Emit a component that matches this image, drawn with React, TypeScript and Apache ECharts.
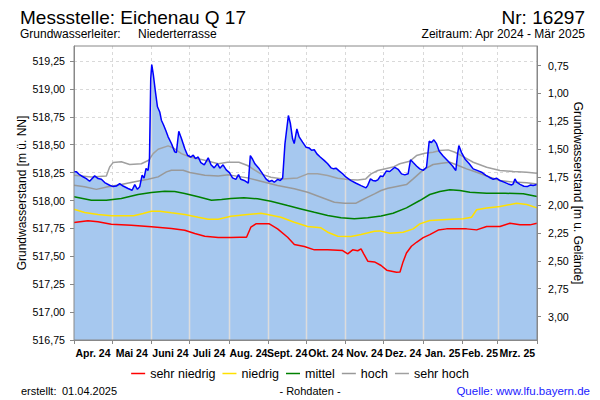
import React, { useEffect, useRef } from 'react';
import * as echarts from 'echarts';

// ---- data (day index since 01.04.2024, level in m ü. NN) ----
const monthLabels = ['Apr. 24', 'Mai 24', 'Juni 24', 'Juli 24', 'Aug. 24', 'Sept. 24', 'Okt. 24', 'Nov. 24', 'Dez. 24', 'Jan. 25', 'Feb. 25', 'Mrz. 25'];
const monthLengths = [30, 31, 30, 31, 31, 30, 31, 30, 31, 31, 28, 31];
const levelTicks = [516.75, 517.0, 517.25, 517.5, 517.75, 518.0, 518.25, 518.5, 518.75, 519.0, 519.25];
const depthTicks = [0.75, 1.0, 1.25, 1.5, 1.75, 2.0, 2.25, 2.5, 2.75, 3.0];
const groundLevel = 519.96;
const levelMin = 516.75;
const levelMax = 519.385;

const rohdaten: [number, number][] = [
  [0, 518.257], [2, 518.257], [4, 518.235], [6, 518.22], [9.7, 518.197], [12.3, 518.173], [16.3, 518.221],
  [19, 518.197], [21.6, 518.19], [24.2, 518.161], [28.1, 518.137], [30.8, 518.125], [33.4, 518.13], [36, 518.152],
  [38.7, 518.13], [42.6, 518.108], [45.8, 518.092], [47.9, 518.143], [50, 518.1], [51.8, 518.123], [53.7, 518.227],
  [55.2, 518.2], [56.8, 518.287], [58.4, 518.27], [59.5, 518.376], [60.5, 519.093], [61.3, 519.219], [62.6, 519.123],
  [64.2, 518.974], [65.8, 518.84], [67.6, 518.794], [68.9, 518.72], [70.7, 518.675], [72.3, 518.63], [74.2, 518.571],
  [76.8, 518.511], [79.4, 518.436], [80.7, 518.43], [82.6, 518.621], [84.7, 518.556], [87.3, 518.466], [89.5, 518.406],
  [92, 518.39], [94, 518.406], [95.8, 518.376], [97.9, 518.39], [100, 518.34], [102.7, 518.32], [105.8, 518.383],
  [108, 518.32], [110.5, 518.293], [113, 518.33], [115, 518.29], [117.5, 518.32], [120, 518.275], [122.5, 518.25],
  [125, 518.203], [127.6, 518.19], [129.7, 518.233], [131.5, 518.19], [134.2, 518.18], [137.4, 518.155], [139, 518.403],
  [140.8, 518.37], [142.6, 518.329], [146, 518.284], [148.7, 518.239], [151.3, 518.194], [153.9, 518.17], [156, 518.18],
  [157.9, 518.164], [160.6, 518.19], [162.6, 518.18], [164.5, 518.203], [166.3, 518.508], [169, 518.762], [170.6, 518.69],
  [172.3, 518.553], [173.6, 518.51], [175.7, 518.642], [177.5, 518.57], [180.2, 518.523], [182.9, 518.478], [185.5, 518.47],
  [187.3, 518.45], [189.4, 518.455], [191.5, 518.418], [194.1, 518.39], [197.4, 518.358], [200, 518.33], [202.6, 518.293],
  [204.7, 518.284], [206.5, 518.29], [209.2, 518.263], [211.8, 518.24], [214.5, 518.209], [218.4, 518.179], [222.4, 518.155],
  [226.3, 518.134], [230.2, 518.114], [231.5, 518.134], [233.7, 518.194], [235.5, 518.18], [237.6, 518.175], [239.5, 518.185],
  [241.6, 518.22], [243.5, 518.215], [246.3, 518.265], [248.9, 518.26], [252.9, 518.298], [255.5, 518.28], [258.2, 518.239],
  [260.8, 518.23], [263.4, 518.24], [265.3, 518.365], [267.4, 518.34], [270, 518.31], [272.6, 518.284], [275.3, 518.27],
  [277.9, 518.298], [280, 518.531], [281.8, 518.52], [283.7, 518.544], [285.8, 518.51], [287.9, 518.442], [291, 518.4],
  [295, 518.352], [298.4, 518.31], [301, 518.269], [302.4, 518.418], [303.4, 518.493], [305.5, 518.43], [308.2, 518.373],
  [311.6, 518.33], [314.7, 518.284], [317.8, 518.27], [321.3, 518.254], [324.7, 518.225], [327.3, 518.209], [330.5, 518.19],
  [333.1, 518.2], [335.8, 518.179], [339, 518.165], [342.3, 518.149], [345, 518.14], [346.3, 518.15], [347.6, 518.194],
  [349, 518.165], [351.6, 518.145], [354.7, 518.128], [357.3, 518.125], [360, 518.14], [362, 518.134], [365, 518.143],
];

const sehrHoch: [number, number][] = [
  [0, 518.227], [13.7, 518.21], [25.5, 518.22], [28.1, 518.3], [30.8, 518.34], [37.3, 518.347], [43.9, 518.323],
  [53.1, 518.33], [58.9, 518.361], [62.4, 518.42], [66.3, 518.46], [74.2, 518.49], [78.2, 518.472], [84.7, 518.42],
  [91.3, 518.39], [103.1, 518.361], [113.7, 518.33], [121, 518.343], [130, 518.343], [136.8, 518.314], [147.3, 518.239],
  [155.2, 518.209], [164.5, 518.194], [176.3, 518.203], [184.2, 518.239], [192, 518.239], [200, 518.224], [207.8, 518.2],
  [215.8, 518.188], [223.7, 518.185], [230, 518.194], [234.2, 518.239], [239.5, 518.269], [244.7, 518.283], [251.5, 518.3],
  [256.8, 518.33], [264.7, 518.352], [270, 518.403], [276.6, 518.424], [283.1, 518.433], [288.4, 518.448], [295, 518.454],
  [300.3, 518.433], [306.8, 518.394], [314.7, 518.343], [325.3, 518.298], [335.8, 518.269], [346.3, 518.26], [356.9, 518.254],
  [365, 518.245],
];

const hoch: [number, number][] = [
  [0, 518.137], [8.4, 518.123], [17.6, 518.1], [26.8, 518.123], [37.3, 518.143], [47.9, 518.168], [58.4, 518.19],
  [66.3, 518.212], [72.9, 518.257], [76.8, 518.272], [86, 518.272], [91.3, 518.251], [103.1, 518.227], [113.7, 518.22],
  [122, 518.23], [136.8, 518.203], [147.3, 518.173], [160.5, 518.134], [173.7, 518.105], [184.2, 518.074], [194.7, 518.03],
  [205.3, 517.985], [213.2, 517.976], [222.4, 517.976], [226.3, 518.0], [231.6, 518.03], [236.9, 518.06], [242.1, 518.09],
  [247.4, 518.11], [251.5, 518.12], [262.1, 518.143], [267.4, 518.194], [275.3, 518.275], [283.1, 518.323], [289.8, 518.334],
  [296.3, 518.343], [302.9, 518.314], [309.5, 518.284], [317.4, 518.254], [327.9, 518.209], [335.8, 518.179], [346.3, 518.165],
  [356.9, 518.16], [365, 518.149],
];

const mittel: [number, number][] = [
  [0, 518.033], [13.7, 518.003], [25.5, 518.003], [37.3, 518.018], [50.5, 518.054], [61, 518.072], [71.5, 518.083],
  [79.4, 518.08], [87.3, 518.063], [97.9, 518.033], [108.4, 518.003], [116.3, 518.01], [123.7, 518.018], [134, 518.025],
  [144.7, 518.015], [155.2, 517.994], [168.4, 517.955], [178.9, 517.925], [189.5, 517.895], [200, 517.866], [210.5, 517.845],
  [221, 517.836], [231.6, 517.845], [242.1, 517.862], [251.5, 517.886], [262.1, 517.934], [272.6, 518.0], [280.5, 518.054],
  [288.4, 518.081], [296.3, 518.096], [304.2, 518.09], [312.1, 518.075], [325.3, 518.065], [340, 518.065], [354.2, 518.06],
  [365, 518.036],
];

const niedrig: [number, number][] = [
  [0, 517.922], [8.4, 517.892], [18.9, 517.875], [29.4, 517.863], [47, 517.863], [54.5, 517.883], [61, 517.904],
  [67.6, 517.904], [76.8, 517.89], [87.3, 517.875], [97.9, 517.85], [105.8, 517.832], [113.7, 517.832], [123.7, 517.86],
  [136.8, 517.875], [147.3, 517.886], [152.6, 517.875], [163.1, 517.85], [173.7, 517.806], [184.2, 517.767], [194.7, 517.756],
  [200, 517.716], [207.9, 517.68], [218.4, 517.677], [226.3, 517.695], [236.9, 517.725], [241, 517.728], [249, 517.707],
  [259.5, 517.716], [267.4, 517.746], [272.6, 517.791], [280.5, 517.821], [293.7, 517.83], [306.8, 517.836], [313.4, 517.85],
  [317.4, 517.917], [325.3, 517.934], [335.8, 517.946], [349, 517.976], [356.9, 517.965], [365, 517.934],
];

const sehrNiedrig: [number, number][] = [
  [0, 517.803], [11, 517.818], [18.9, 517.81], [29.4, 517.788], [45.2, 517.779], [61, 517.764], [76.8, 517.749],
  [87.3, 517.734], [95.2, 517.704], [103.1, 517.68], [113.7, 517.668], [123.7, 517.668], [130.7, 517.671], [136, 517.671],
  [139.4, 517.761], [143.4, 517.791], [154, 517.791], [160.5, 517.746], [168.4, 517.671], [173.7, 517.606], [181.6, 517.588],
  [189.5, 517.558], [200, 517.558], [211.8, 517.552], [215.8, 517.522], [219.7, 517.558], [223.7, 517.55], [226.3, 517.567],
  [228.4, 517.522], [231.6, 517.456], [236.9, 517.45], [242.1, 517.418], [246.5, 517.376], [254.2, 517.357], [257, 517.36],
  [259.4, 517.45], [262.1, 517.53], [266, 517.59], [270, 517.626], [275.3, 517.668], [280.5, 517.695], [287.1, 517.735],
  [293.7, 517.746], [309.5, 517.746], [317.4, 517.737], [325.3, 517.767], [335.8, 517.767], [343.7, 517.797], [351.6, 517.782],
  [359.5, 517.782], [365, 517.797],
];

const FONT = '"Liberation Sans", Arial, Helvetica, sans-serif';

const monthStarts: number[] = monthLengths.reduce<number[]>((acc, len) => {
  acc.push(acc[acc.length - 1] + len);
  return acc;
}, [0]);
const monthMids: number[] = monthLengths.map((len, i) => monthStarts[i] + len / 2);

function levelAt(day: number): number {
  for (let i = 1; i < rohdaten.length; i++) {
    const [d0, v0] = rohdaten[i - 1];
    const [d1, v1] = rohdaten[i];
    if (day <= d1) return v0 + ((v1 - v0) * (day - d0)) / (d1 - d0);
  }
  return rohdaten[rohdaten.length - 1][1];
}

const fmt = (v: number) => v.toFixed(2).replace('.', ',');

export default function App() {
  const ref = useRef<HTMLDivElement>(null);

  useEffect(() => {
    if (!ref.current) return;
    const chart = echarts.init(ref.current, undefined, { renderer: 'svg' });

    const innerStarts = monthStarts.slice(1, -1).map((d) => [d, levelAt(d)]);

    const statLine = (name: string, data: [number, number][], color: string) => ({
      name,
      type: 'line',
      data,
      symbol: 'none',
      z: 3,
      lineStyle: { color, width: 1.5 },
      itemStyle: { color },
    });

    chart.setOption({
      animation: false,
      backgroundColor: '#ffffff',
      textStyle: { fontFamily: FONT },
      grid: { left: 74, right: 63, top: 46, bottom: 60, show: true, borderColor: '#888888', borderWidth: 1, z: 10, backgroundColor: 'transparent' },
      legend: {
        data: ['sehr niedrig', 'niedrig', 'mittel', 'hoch', 'sehr hoch'],
        left: 'center',
        top: 362,
        icon: 'rect',
        itemWidth: 14,
        itemHeight: 1.5,
        itemGap: 7,
        selectedMode: false,
        textStyle: { fontSize: 12.5, color: '#000', fontFamily: FONT },
      },
      xAxis: {
        type: 'value',
        min: 0,
        max: 365,
        axisLine: { show: true, lineStyle: { color: '#888888' } },
        axisTick: { show: true, length: 4, customValues: monthStarts, lineStyle: { color: '#888888' } },
        axisLabel: {
          customValues: monthMids,
          margin: 7,
          fontSize: 10.5,
          fontWeight: 'bold',
          color: '#000',
          fontFamily: FONT,
          formatter: (v: number) => {
            const i = monthMids.findIndex((m) => Math.abs(m - v) < 0.01);
            return i >= 0 ? monthLabels[i] : '';
          },
        },
        splitLine: { show: true, lineStyle: { color: '#d9d9d9', type: [3, 3], width: 1 } },
      },
      yAxis: [
        {
          type: 'value',
          min: levelMin,
          max: levelMax,
          name: 'Grundwasserstand [m ü. NN]',
          nameLocation: 'middle',
          nameRotate: 90,
          nameGap: 46,
          nameMoveOverlap: false,
          nameTextStyle: { fontSize: 12, color: '#000', fontFamily: FONT },
          axisLine: { show: true, lineStyle: { color: '#888888' } },
          axisTick: { show: true, length: 4, customValues: levelTicks, lineStyle: { color: '#888888' } },
          axisLabel: { customValues: levelTicks, margin: 9, fontSize: 10.67, color: '#000', fontFamily: FONT, formatter: (v: number) => fmt(v) },
          splitLine: { show: true, lineStyle: { color: '#d9d9d9', type: [3, 3], width: 1 } },
        },
        {
          type: 'value',
          inverse: true,
          position: 'right',
          min: +(groundLevel - levelMax).toFixed(3),
          max: +(groundLevel - levelMin).toFixed(3),
          name: 'Grundwasserstand [m u. Gelände]',
          nameLocation: 'middle',
          nameRotate: -90,
          nameGap: 35,
          nameMoveOverlap: false,
          nameTextStyle: { fontSize: 12, color: '#000', fontFamily: FONT },
          axisLine: { show: true, lineStyle: { color: '#888888' } },
          axisTick: { show: true, length: 4, customValues: depthTicks, lineStyle: { color: '#888888' } },
          axisLabel: { customValues: depthTicks, margin: 11, fontSize: 10.67, color: '#000', fontFamily: FONT, formatter: (v: number) => fmt(v) },
          splitLine: { show: false },
        },
      ],
      series: [
        {
          name: 'Rohdaten-Fläche',
          type: 'line',
          data: rohdaten,
          symbol: 'none',
          z: 1,
          lineStyle: { width: 0, opacity: 0 },
          areaStyle: { color: '#a6c8ef', opacity: 1, origin: 'start' },
          silent: true,
        },
        {
          name: 'Monatslinien',
          type: 'custom',
          data: innerStarts,
          z: 2,
          silent: true,
          renderItem: (_p: any, api: any) => {
            const top = api.coord([api.value(0), api.value(1)]);
            const bottom = api.coord([api.value(0), levelMin]);
            const x = Math.round(top[0]) + 0.5;
            return {
              type: 'line',
              shape: { x1: x, y1: top[1], x2: x, y2: bottom[1] },
              style: { stroke: '#dcdcdc', lineWidth: 1.5 },
            };
          },
        },
        statLine('sehr niedrig', sehrNiedrig, '#ff0000'),
        statLine('niedrig', niedrig, '#ffe000'),
        statLine('mittel', mittel, '#008000'),
        statLine('hoch', hoch, '#999999'),
        statLine('sehr hoch', sehrHoch, '#a0a0a0'),
        {
          name: 'Rohdaten',
          type: 'line',
          data: rohdaten,
          symbol: 'none',
          z: 4,
          lineStyle: { color: '#0000ff', width: 1.5 },
        },
      ],
      graphic: [
        { type: 'text', x: 20, y: 17, style: { text: 'Messstelle: Eichenau Q 17', fontSize: 19, fontFamily: FONT, fill: '#000', align: 'left', verticalAlign: 'middle' } },
        { type: 'text', x: 585, y: 17, style: { text: 'Nr: 16297', fontSize: 19, fontFamily: FONT, fill: '#000', align: 'right', verticalAlign: 'middle' } },
        { type: 'text', x: 20, y: 34, style: { text: 'Grundwasserleiter:', fontSize: 12, fontFamily: FONT, fill: '#000', align: 'left', verticalAlign: 'middle' } },
        { type: 'text', x: 138, y: 34, style: { text: 'Niederterrasse', fontSize: 12, fontFamily: FONT, fill: '#000', align: 'left', verticalAlign: 'middle' } },
        { type: 'text', x: 585, y: 34, style: { text: 'Zeitraum: Apr 2024 - Mär 2025', fontSize: 12, fontFamily: FONT, fill: '#000', align: 'right', verticalAlign: 'middle' } },
        { type: 'text', x: 21, y: 391, style: { text: 'erstellt:', fontSize: 11, fontFamily: FONT, fill: '#000', align: 'left', verticalAlign: 'middle' } },
        { type: 'text', x: 62, y: 391, style: { text: '01.04.2025', fontSize: 11, fontFamily: FONT, fill: '#000', align: 'left', verticalAlign: 'middle' } },
        { type: 'text', x: 310, y: 391, style: { text: '- Rohdaten -', fontSize: 11, fontFamily: FONT, fill: '#000', align: 'center', verticalAlign: 'middle' } },
        { type: 'text', x: 590, y: 391, style: { text: 'Quelle: www.lfu.bayern.de', fontSize: 11.5, fontFamily: FONT, fill: '#1a1aff', align: 'right', verticalAlign: 'middle' } },
      ],
    });

    return () => chart.dispose();
  }, []);

  return <div ref={ref} style={{ position: 'fixed', left: 0, top: 0, width: 600, height: 400, background: '#fff' }} />;
}
